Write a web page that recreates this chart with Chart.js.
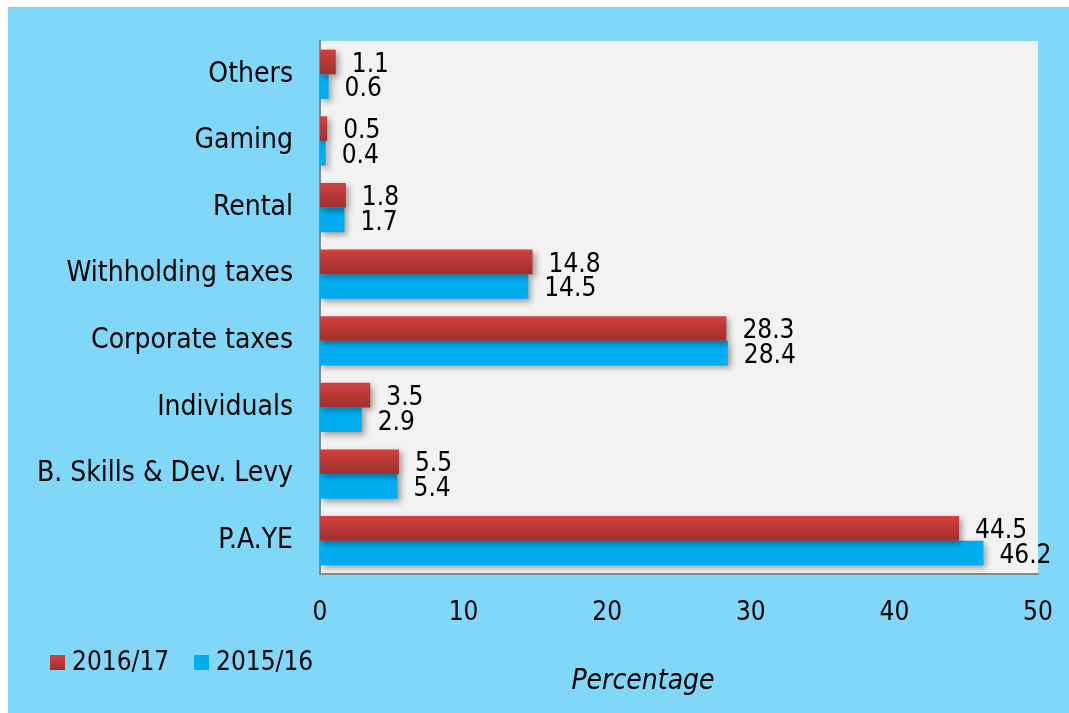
<!DOCTYPE html>
<html>
<head>
<meta charset="utf-8">
<script src="https://cdn.jsdelivr.net/npm/chart.js@4/dist/chart.umd.min.js"></script>
<style>
html,body{margin:0;padding:0;background:#fff;}
#wrap{width:1069px;height:713px;position:relative;}
</style>
</head>
<body>
<div id="wrap"><canvas id="c"></canvas></div>
<script>
const categories = ["Others", "Gaming", "Rental", "Withholding taxes", "Corporate taxes", "Individuals", "B. Skills & Dev. Levy", "P.A.YE"];
const seriesNames = ["2016/17", "2015/16"];
const values2016 = [1.1, 0.5, 1.8, 14.8, 28.3, 3.5, 5.5, 44.5];
const values2015 = [0.6, 0.4, 1.7, 14.5, 28.4, 2.9, 5.4, 46.2];
const xTicks = [0, 10, 20, 30, 40, 50];
const axisTitle = "Percentage";

const FONT = "'DejaVu Sans Condensed', 'DejaVu Sans', sans-serif";
const RED = '#C63B39';
const BLUE = '#00AEEF';
const BG = '#80D7F8';

function redGradient(c) {
  const ys = c.chart.scales && c.chart.scales.y;
  if (!ys || c.type !== 'data' || ys.top === undefined) return RED;
  const cy = ys.getPixelForValue(c.dataIndex);
  const g = c.chart.ctx.createLinearGradient(0, cy - 25, 0, cy);
  g.addColorStop(0, '#D2413F');
  g.addColorStop(1, '#9E302E');
  return g;
}

const bgPlugin = {
  id: 'bg',
  beforeDraw(chart) {
    const ctx = chart.ctx;
    ctx.save();
    ctx.fillStyle = '#ffffff';
    ctx.fillRect(0, 0, chart.width, chart.height);
    ctx.fillStyle = BG;
    ctx.fillRect(8, 7, chart.width - 8, chart.height - 7);
    const a = chart.chartArea;
    ctx.fillStyle = '#F2F2F2';
    ctx.fillRect(a.left, a.top, a.right - a.left, a.bottom - a.top);
    ctx.restore();
  },
  beforeDatasetsDraw(chart) {
    const ctx = chart.ctx;
    ctx.save();
    ctx.shadowColor = 'rgba(0,0,0,0.35)';
    ctx.shadowBlur = 6;
    ctx.shadowOffsetX = 3;
    ctx.shadowOffsetY = 3;
  },
  afterDatasetsDraw(chart) {
    const ctx = chart.ctx;
    ctx.restore();
    ctx.save();
    ctx.font = '26px ' + FONT;
    ctx.fillStyle = '#000';
    ctx.textAlign = 'left';
    ctx.textBaseline = 'middle';
    chart.data.datasets.forEach((ds, di) => {
      const meta = chart.getDatasetMeta(di);
      meta.data.forEach((bar, i) => {
        ctx.fillText(ds.data[i].toFixed(1), bar.x + 16, bar.y + 3);
      });
    });
    ctx.restore();
  },
  afterDraw(chart) {
    const ctx = chart.ctx;
    ctx.save();
    ctx.font = '26px ' + FONT;
    ctx.textBaseline = 'middle';
    ctx.textAlign = 'left';
    const items = [
      {x: 50, label: chart.data.datasets[0].label, color: 'red'},
      {x: 194, label: chart.data.datasets[1].label, color: BLUE}
    ];
    items.forEach(it => {
      if (it.color === 'red') {
        const g = ctx.createLinearGradient(0, 655, 0, 670);
        g.addColorStop(0, '#D2413F');
        g.addColorStop(1, '#9E302E');
        ctx.fillStyle = g;
      } else {
        ctx.fillStyle = it.color;
      }
      ctx.fillRect(it.x, 655, 15, 15);
      ctx.fillStyle = '#000';
      ctx.fillText(it.label, it.x + 22, 663);
    });
    ctx.font = 'italic 28px ' + FONT;
    ctx.textAlign = 'center';
    ctx.fillText(axisTitle, 643, 682);
    ctx.restore();
  }
};

new Chart(document.getElementById('c'), {
  type: 'bar',
  data: {
    labels: categories,
    datasets: [
      {label: seriesNames[0], data: values2016, backgroundColor: redGradient, borderWidth: 0},
      {label: seriesNames[1], data: values2015, backgroundColor: BLUE, borderWidth: 0}
    ]
  },
  options: {
    indexAxis: 'y',
    responsive: true,
    maintainAspectRatio: false,
    animation: false,
    devicePixelRatio: 1,
    layout: {padding: {left: 0, top: 41, right: 31, bottom: 0}},
    datasets: {bar: {categoryPercentage: 0.74, barPercentage: 1.0}},
    plugins: {legend: {display: false}, tooltip: {enabled: false}, title: {display: false}},
    scales: {
      x: {
        min: 0, max: 50,
        afterBuildTicks(scale) { scale.ticks = xTicks.map(v => ({value: v})); },
        afterFit(scale) { scale.height = 139; scale.paddingLeft = 0; scale.paddingRight = 0; },
        grid: {display: false, drawTicks: false},
        border: {display: true, color: '#898989', width: 2},
        ticks: {padding: 24, color: '#000', font: {family: FONT, size: 26}}
      },
      y: {
        afterFit(scale) { scale.width = 320; scale.paddingTop = 0; scale.paddingBottom = 0; },
        grid: {display: false, drawTicks: false},
        border: {display: true, color: '#898989', width: 2},
        ticks: {padding: 27, color: '#000', font: {family: FONT, size: 28, lineHeight: 1.35}}
      }
    }
  },
  plugins: [bgPlugin]
});
</script>
</body>
</html>
